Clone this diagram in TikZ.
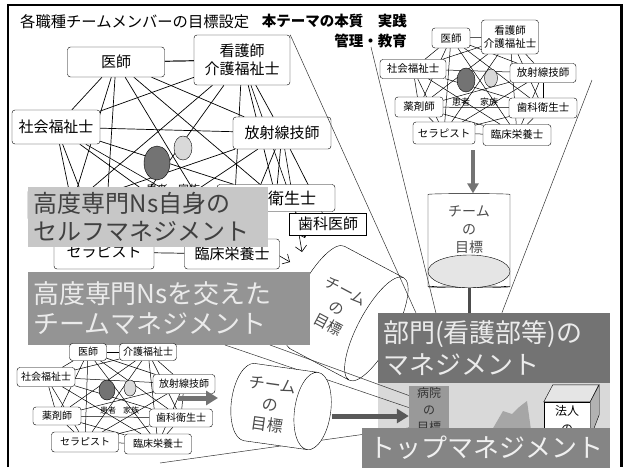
\documentclass[tikz,border=0pt]{standalone}
\usepackage{fontspec}
\setmainfont{Noto Sans CJK JP}
\usetikzlibrary{shapes.geometric,arrows.meta,positioning,backgrounds,calc}

% every member is linked with every other one
\newcommand\teampairs{ishi/kango,ishi/shakai,ishi/hosha,ishi/yaku,ishi/shika,ishi/thera,ishi/rinsho,
  kango/shakai,kango/hosha,kango/yaku,kango/shika,kango/thera,kango/rinsho,
  shakai/hosha,shakai/yaku,shakai/shika,shakai/thera,shakai/rinsho,
  hosha/yaku,hosha/shika,hosha/thera,hosha/rinsho,
  yaku/shika,yaku/thera,yaku/rinsho,shika/thera,shika/rinsho,thera/rinsho}

\begin{document}
\begin{tikzpicture}[x=1pt,y=-1pt,
  mem/.style={rectangle,draw,rounded corners=3pt,fill=white,align=center,inner sep=1pt},
  memA/.style={mem,font=\fontsize{15}{18}\selectfont},
  memB/.style={mem,font=\fontsize{10.5}{12.5}\selectfont},
  memC/.style={mem,font=\fontsize{10}{12}\selectfont},
  patient/.style={ellipse,draw,fill=black!55,inner sep=0pt},
  family/.style={ellipse,draw,fill=black!15,inner sep=0pt},
  goal/.style={cylinder,draw,fill=white,align=center,text=black!70,inner sep=1pt},
  banner/.style={rectangle,inner sep=4pt,align=left},
  link/.style={line width=0.7pt},
  funnel/.style={line width=0.5pt,black!80},
  fat/.style={line width=5pt,black!55,-{Triangle[width=14pt,length=12pt]}},
  edge/.style={line width=0.6pt,-{Straight Barb[length=2mm]}}
]
\useasboundingbox (0,0) rectangle (627,467);

% heading
\node[anchor=west,inner sep=0pt,font=\fontsize{15.3}{16}\selectfont] (title) at (20,22) {各職種チームメンバーの目標設定};
\node[anchor=north east,inner sep=0pt,align=right,font=\bfseries\fontsize{14.5}{20}\selectfont] (theme) at (407,14) {本テーマの本質　実践\\管理・教育};

% large team
\node[memA,minimum width=97,minimum height=30] (ishiA) at (116,62) {医師};
\node[memA,minimum width=96,minimum height=50] (kangoA) at (242,60) {看護師\\介護福祉士};
\node[memA,minimum width=88,minimum height=34] (shakaiA) at (56,127) {社会福祉士};
\node[memA,minimum width=98,minimum height=32] (hoshaA) at (282,133) {放射線技師};
\node[memA,minimum width=88,minimum height=32] (yakuA) at (72,205) {};
\node[memA,font=\fontsize{16}{18}\selectfont,minimum width=118,minimum height=27] (shikaA) at (276,198) {歯科衛生士};
\node[memA,minimum width=100,minimum height=34] (theraA) at (104,252) {セラピスト};
\node[memA,minimum width=95,minimum height=30] (rinshoA) at (232,254) {臨床栄養士};
\node[memA,rounded corners=0pt,minimum width=77,minimum height=22] (shikaiA) at (328,224) {歯科医師};
\node[patient,minimum width=26,minimum height=34] (patientA) at (157,163) {};
\node[family,minimum width=18,minimum height=24] (familyA) at (183,148) {};
\node[font=\fontsize{11}{11}\selectfont] (ptA) at (157,189) {患者};
\node[font=\fontsize{11}{11}\selectfont] (fmA) at (189,189) {家族};

% small team, upper right
\node[memB,minimum width=38,minimum height=20] (ishiB) at (451,38) {医師};
\node[memB,minimum width=57,minimum height=34] (kangoB) at (510,37) {看護師\\介護福祉士};
\node[memB,minimum width=66,minimum height=19] (shakaiB) at (413,69) {社会福祉士};
\node[memB,minimum width=66,minimum height=19] (hoshaB) at (543,73) {放射線技師};
\node[memB,minimum width=48,minimum height=20] (yakuB) at (419,107) {薬剤師};
\node[memB,minimum width=68,minimum height=20] (shikaB) at (543,108) {歯科衛生士};
\node[memB,minimum width=62,minimum height=22] (theraB) at (444,133) {セラピスト};
\node[memB,minimum width=68,minimum height=21] (rinshoB) at (517,135) {臨床栄養士};
\node[patient,minimum width=18,minimum height=24] (patientB) at (466,80) {};
\node[family,minimum width=13,minimum height=18] (familyB) at (491,78) {};
\node[font=\fontsize{9}{9}\selectfont] (ptB) at (461,102) {患者};
\node[font=\fontsize{9}{9}\selectfont] (fmB) at (489,102) {家族};

\begin{scope}[on background layer]
  \foreach \a/\b in \teampairs {
    \draw[link] (\a A) -- (\b A);
    \draw[link,line width=0.5pt] (\a B) -- (\b B);
  }
  \draw[link] (ishiA) -- (kangoA);
  \draw[link] (hoshaA) -- (shikaiA);
  % toward the team goal
  \coordinate (tipA1) at (305,238);
  \coordinate (tipA2) at (302,252);
  \coordinate (tipA3) at (290,262);
  \draw[edge] (kangoA) -- (tipA1);
  \draw[edge] (hoshaA) -- (tipA2);
  \draw[edge] (shakaiA) -- (tipA3);
\end{scope}

% goals of the teams
\node[goal,shape border rotate=270,aspect=0.8,minimum width=82,minimum height=94,
  label={[align=center,text=black!70,yshift=10pt,font=\fontsize{14}{18}\selectfont]center:{チーム\\の\\目標}}] (goalB) at (469,240) {};
\draw[fill=black!10] ($(goalB.top)+(0,-16.4)$) ellipse [x radius=41,y radius=16.4];
\coordinate (arrB) at (473,150);
\draw[fat,line width=3.5pt,-{Triangle[width=11pt,length=10pt]}] (arrB) -- (arrB |- goalB.bottom);

\node[goal,rotate=-28,aspect=0.7,minimum width=116,minimum height=104,
  font=\fontsize{15}{19}\selectfont] (goalA) at (337,308) {チーム\\の\\目標};

% bottom right blocks
\fill[black!15] (378,383) rectangle (610,428);
\node[banner,fill=black!55,text=black!8,minimum width=232,minimum height=70,text width=222,
  font=\fontsize{26}{32}\selectfont] (bumon) at (494,348) {部門(看護部等)の\\マネジメント};
\draw[line width=3pt,black!70] (goalB.top) -- (goalB.top |- bumon.north);
\node[fill=black!40,minimum width=40,minimum height=48,align=center,inner sep=1pt,
  text=black!80,font=\fontsize{12}{17}\selectfont] (byoin) at (429,410) {病院\\の\\目標};
\fill[black!35] (492,430) -- (503,411) -- (512,414) -- (518,408) -- (523,404) -- (527,401) -- (531,430) -- cycle;
\node[draw,fill=white,minimum width=46,minimum height=36,align=center,inner sep=1pt,
  font=\fontsize{12}{18}\selectfont] (houjin) at (567,420) {法人\\の};
\draw[fill=black!10] (houjin.north west) -- ++(9,-17) -- ++(46,0) -- (houjin.north east) -- cycle;
\draw[fill=black!30] (houjin.north east) -- ++(9,-17) -- ++(0,30) -- (houjin.south east) -- cycle;

% lines gathering into the blocks
\coordinate (coneL) at (371,47);
\coordinate (coneR) at (592,80);
\draw[funnel] (kangoA.north east) -- ($(bumon.north west)!0.164!(bumon.north east)$);
\draw[funnel] (coneL) -- ($(bumon.north west)!0.25!(bumon.north east)$);
\draw[funnel] (coneR) -- ($(bumon.north west)!0.534!(bumon.north east)$);

% overlays
\node[banner,fill=black!22,text=black!75,minimum width=240,minimum height=60,text width=228,
  font=\fontsize{24}{28}\selectfont] (selfmg) at (148,217) {高度専門Ns自身の\\セルフマネジメント};
\node[banner,fill=black!42,text=black!8,minimum width=282,minimum height=73,text width=272,
  font=\fontsize{26}{30}\selectfont] (teammg) at (169,308) {高度専門Nsを交えた\\チームマネジメント};

\coordinate (coneC1) at (270,345);
\coordinate (coneC2) at (225,345);
\coordinate (coneC3) at (160,463);
\draw[funnel] (coneC1) -- ($(byoin.north west)!0.2!(byoin.south west)$);
\draw[funnel] (coneC2) -- ($(byoin.north west)!0.45!(byoin.south west)$);
\draw[funnel] (coneC3) -- ($(byoin.north west)!0.87!(byoin.south west)$);

% small team, lower left
\node[memC,minimum width=37,minimum height=17] (ishiC) at (88,352) {医師};
\node[memC,minimum width=57,minimum height=17] (kangoC) at (148,352) {介護福祉士};
\node[memC,minimum width=58,minimum height=19] (shakaiC) at (46,377) {社会福祉士};
\node[memC,minimum width=62,minimum height=19] (hoshaC) at (184,384) {放射線技師};
\node[memC,minimum width=48,minimum height=18] (yakuC) at (57,416) {薬剤師};
\node[memC,minimum width=63,minimum height=18] (shikaC) at (181,418) {歯科衛生士};
\node[memC,minimum width=67,minimum height=20] (theraC) at (85,442) {セラピスト};
\node[memC,minimum width=67,minimum height=20] (rinshoC) at (158,444) {臨床栄養士};
\node[patient,minimum width=16,minimum height=20] (patientC) at (107,390) {};
\node[family,minimum width=12,minimum height=16] (familyC) at (130,388) {};
\node[font=\fontsize{8}{8}\selectfont] (ptC) at (108,410) {患者};
\node[font=\fontsize{8}{8}\selectfont] (fmC) at (131,410) {家族};
\begin{scope}[on background layer]
  \foreach \a/\b in \teampairs
    \draw[link,line width=0.5pt] (\a C) -- (\b C);
\end{scope}

\node[goal,rotate=-8,aspect=0.65,minimum width=78,minimum height=86,
  font=\fontsize{16}{20}\selectfont] (goalC) at (270,405) {チーム\\の\\目標};
\coordinate (arrC) at (178,398);
\draw[fat] (arrC) -- (218,398);
\coordinate (arrD) at (332,416);
\draw[fat,black!65] (arrD) -- (arrD -| byoin.west);

\node[banner,fill=black!48,text=black!6,minimum width=248,minimum height=40,inner sep=2pt,
  font=\fontsize{26}{30}\selectfont] (topmgmt) at (486,448) {トップマネジメント};

% frame
\draw[line width=1.5pt] (8,467) -- (8,5) -- (621,5);
\draw[line width=3pt] (621,4) -- (621,467);
\end{tikzpicture}
\end{document}
